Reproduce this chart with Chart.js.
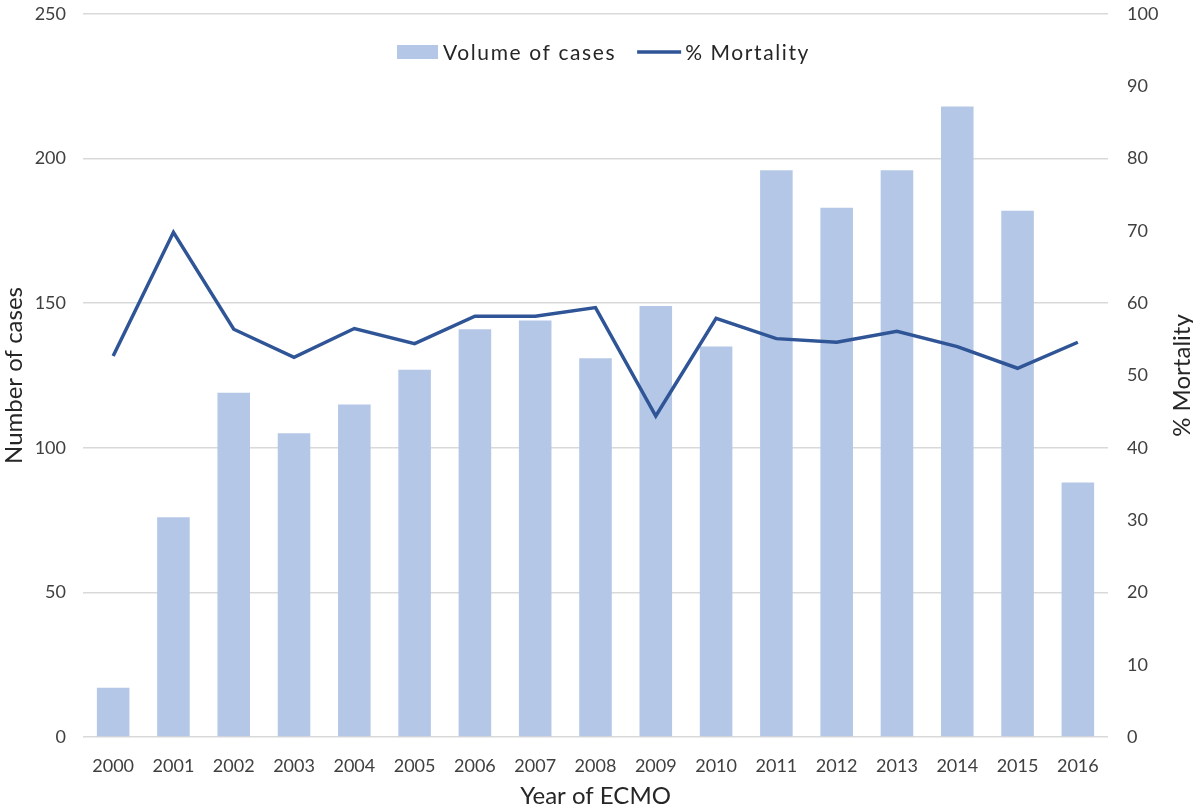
<!DOCTYPE html>
<html>
<head>
<meta charset="utf-8">
<script src="https://cdn.jsdelivr.net/npm/chart.js@4.4.1/dist/chart.umd.min.js"></script>
<style>
  html, body { margin: 0; padding: 0; background: #fff; }
  #grafico { display: block; }
</style>
</head>
<body>
<canvas id="grafico" width="1193" height="807"></canvas>

<script>
const anos = ['2000', '2001', '2002', '2003', '2004', '2005', '2006', '2007', '2008',
  '2009', '2010', '2011', '2012', '2013', '2014', '2015', '2016'];
const volumeCasos = [17, 76, 119, 105, 115, 127, 141, 144, 131, 149, 135, 196, 183, 196, 218, 182, 88];
const mortalidade = [52.7, 69.8, 56.4, 52.5, 56.5, 54.4, 58.2, 58.2, 59.4, 44.4, 57.9, 55.1, 54.6, 56.1, 54.0, 51.0, 54.6];
const ticksCasos = [0, 50, 100, 150, 200, 250];
const ticksMortalidade = [0, 10, 20, 30, 40, 50, 60, 70, 80, 90, 100];

const fonte = 'Lato, "Liberation Sans", sans-serif';
const corTexto = '#404040';
const corTitulo = '#262626';
const corGrade = '#d9d9d9';
const corBarra = '#b4c7e7';
const corLinha = '#2f5597';

// titulo do eixo direito, girado como no Excel (de baixo para cima)
const tituloDireita = {
  id: 'tituloDireita',
  afterDraw(chart) {
    const c = chart.ctx;
    const area = chart.chartArea;
    c.save();
    c.translate(1182, (area.top + area.bottom) / 2);
    c.rotate(-Math.PI / 2);
    c.font = '24px ' + fonte;
    c.fillStyle = corTitulo;
    c.textAlign = 'center';
    c.textBaseline = 'middle';
    c.fillText('% Mortality', 0, 0);
    c.restore();
  }
};

// legenda dentro da area do grafico, em uma linha
const legendaInterna = {
  id: 'legendaInterna',
  afterDatasetsDraw(chart) {
    const c = chart.ctx;
    const area = chart.chartArea;
    const barras = chart.data.datasets[1];
    const linha = chart.data.datasets[0];
    c.save();
    c.font = '21px ' + fonte;
    c.letterSpacing = '1.6px';
    const w1 = c.measureText(barras.label).width;
    const w2 = c.measureText(linha.label).width;
    const total = 41 + 5 + w1 + 21 + 44 + 4 + w2;
    let x = (area.left + area.right) / 2 + 8 - total / 2;
    const y = area.top + 38;
    c.fillStyle = corBarra;
    c.fillRect(x, y - 7, 41, 14);
    x += 46;
    c.fillStyle = corTitulo;
    c.textBaseline = 'middle';
    c.fillText(barras.label, x, y + 1);
    x += w1 + 21;
    c.strokeStyle = corLinha;
    c.lineWidth = 3.5;
    c.beginPath();
    c.moveTo(x, y);
    c.lineTo(x + 44, y);
    c.stroke();
    x += 48;
    c.fillText(linha.label, x, y + 1);
    c.restore();
  }
};

function fixaVertical(largura) {
  return function (scale) {
    scale.width = largura;
    scale.paddingTop = 14;
    scale.paddingBottom = 0;
  };
}

const ctx = document.getElementById('grafico').getContext('2d');

new Chart(ctx, {
  type: 'bar',
  data: {
    labels: anos,
    datasets: [
      {
        type: 'line',
        label: '% Mortality',
        data: mortalidade,
        yAxisID: 'y1',
        borderColor: corLinha,
        backgroundColor: corLinha,
        borderWidth: 3.5,
        pointRadius: 0,
        tension: 0,
        order: 1
      },
      {
        label: 'Volume of cases',
        data: volumeCasos,
        yAxisID: 'y',
        backgroundColor: corBarra,
        categoryPercentage: 1,
        barPercentage: 0.54,
        order: 2
      }
    ]
  },
  options: {
    responsive: false,
    animation: false,
    layout: { padding: 0 },
    plugins: {
      tooltip: { enabled: false },
      legend: { display: false }
    },
    scales: {
      x: {
        grid: { display: false },
        border: { display: false },
        ticks: {
          color: corTexto,
          font: { family: fonte, size: 18 },
          padding: 10,
          maxRotation: 0,
          autoSkip: false
        },
        title: {
          display: true,
          text: 'Year of ECMO',
          color: corTitulo,
          font: { family: fonte, size: 24 },
          padding: { top: 0, bottom: -4 }
        },
        afterFit(scale) { scale.height = 70; }
      },
      y: {
        position: 'left',
        min: 0,
        max: 250,
        afterBuildTicks(scale) { scale.ticks = ticksCasos.map(v => ({ value: v })); },
        grid: { color: corGrade, lineWidth: 1.5, drawTicks: false },
        border: { display: false },
        ticks: {
          color: corTexto,
          font: { family: fonte, size: 18 },
          padding: 17
        },
        title: {
          display: true,
          text: 'Number of cases',
          color: corTitulo,
          font: { family: fonte, size: 24 },
          padding: { top: 0, bottom: 0 }
        },
        afterFit: fixaVertical(83)
      },
      y1: {
        position: 'right',
        min: 0,
        max: 100,
        afterBuildTicks(scale) { scale.ticks = ticksMortalidade.map(v => ({ value: v })); },
        grid: { display: false, drawTicks: false },
        border: { display: false },
        ticks: {
          color: corTexto,
          font: { family: fonte, size: 18 },
          padding: 19
        },
        afterFit: fixaVertical(85)
      }
    }
  },
  plugins: [tituloDireita, legendaInterna]
});
</script>
</body>
</html>
